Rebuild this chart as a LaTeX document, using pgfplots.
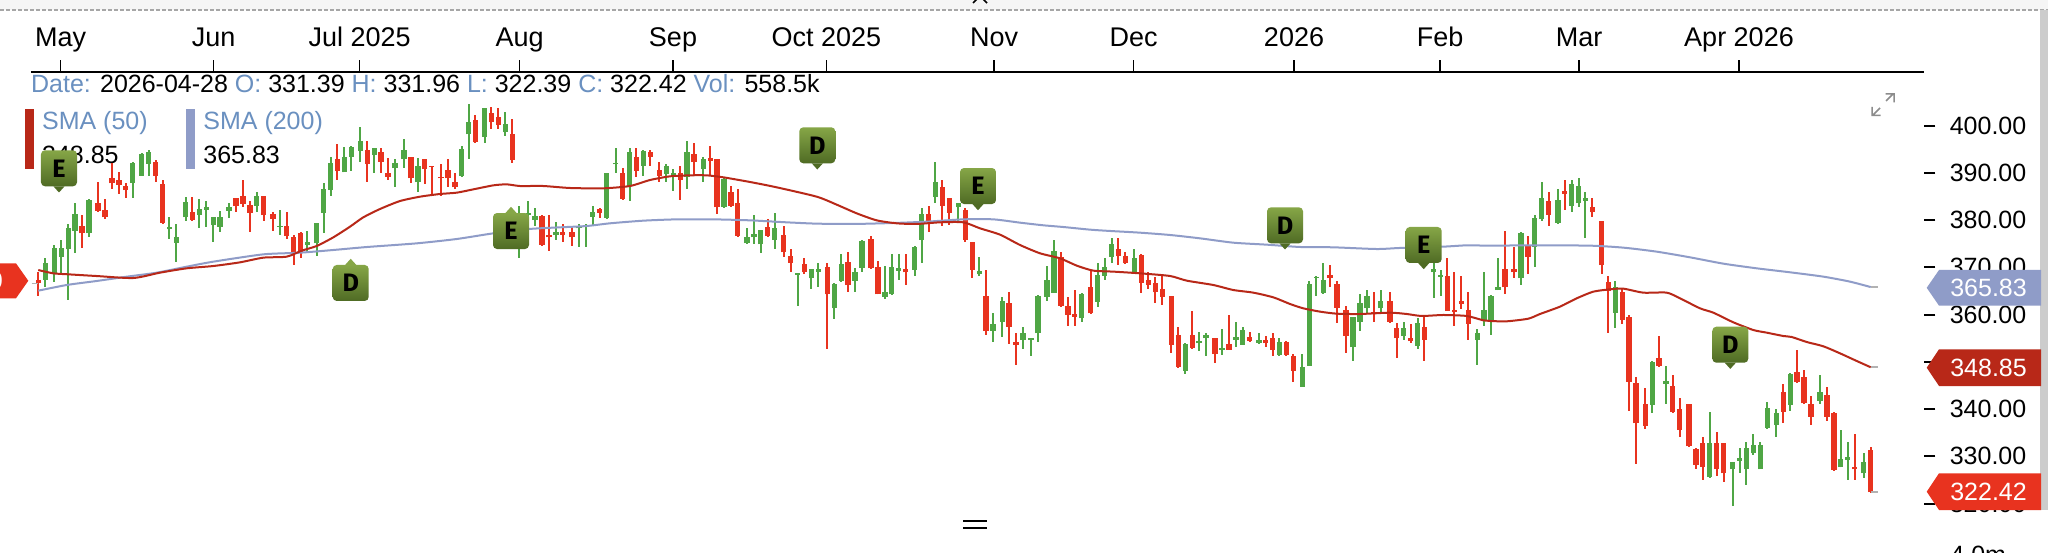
\documentclass[border=0pt]{standalone}
\usepackage{fontspec}
\setmainfont{Liberation Sans}
\newfontfamily\badgefont{Fira Sans}
\usepackage{pgfplots}
\usepackage{pgfplotstable}
\pgfplotsset{compat=1.18}
\definecolor{cg}{HTML}{4FA645}
\definecolor{cr}{HTML}{E8331F}
\definecolor{sma50}{HTML}{B82818}
\definecolor{sma200}{HTML}{8F9CC8}
\definecolor{lblue}{HTML}{6A90C0}
\newcommand{\fs}{\fontsize{12.5}{15}\selectfont}
\pgfplotstableread{
x o h l c
45.3 367.33 371.91 365.92 371.00
54.3 368.74 374.74 366.97 374.03
61.3 372.27 375.80 368.74 374.03
68.3 373.82 379.18 363.09 378.27
75 377.70 383.56 372.97 381.30
89 377.21 384.48 376.36 384.26
132.7 387.93 392.24 384.62 392.03
141.7 389.42 394.29 389.42 394.00
148.7 391.89 394.85 389.42 394.50
169.3 378.05 380.60 375.94 378.48
176.3 375.23 379.18 371.07 376.36
185.7 380.60 384.97 379.89 383.77
199.3 381.09 384.48 378.41 382.29
206.3 382.15 384.05 378.48 382.71
213.3 378.97 380.74 375.44 380.74
220 378.62 382.01 377.42 380.74
229 382.01 383.56 380.38 382.71
256.7 382.99 386.03 381.79 385.11
280 378.62 382.15 376.85 378.76
307.3 374.74 377.70 372.97 375.44
316.7 375.09 379.32 372.48 379.32
323.7 381.58 387.93 377.35 386.59
330.7 386.38 393.30 385.18 392.03
344.3 390.12 395.56 390.12 393.44
351.3 393.44 395.77 390.48 395.56
360.3 394.71 399.65 392.38 396.83
374.3 393.79 395.35 390.05 395.35
395 390.97 392.88 387.09 392.03
404 392.88 397.18 390.97 394.85
418 388.01 393.09 386.03 391.53
461.7 389.42 395.77 389.35 394.99
468.7 398.17 404.52 392.95 400.71
484.7 397.67 403.67 396.26 403.67
505.3 398.59 402.97 397.82 400.29
519 377.21 383.00 372.06 381.09
528.3 381.09 384.06 377.92 381.44
535 380.03 382.64 378.76 380.88
556 376.86 379.68 375.80 377.42
579 378.27 379.19 374.39 378.76
586 378.48 379.19 374.39 378.76
592.7 380.74 383.00 378.97 381.80
606.7 380.53 390.05 380.39 390.05
615.7 391.82 395.35 390.05 392.17
629.7 387.23 395.35 384.13 394.50
643.3 391.47 394.85 389.42 394.64
666.3 389.77 391.89 388.15 391.54
673.3 389.21 390.83 386.17 390.05
687 389.21 396.76 386.60 394.50
703.3 390.83 393.44 388.15 392.95
724 382.86 389.21 382.71 388.64
747 375.09 378.27 374.95 376.50
754 376.36 381.09 374.95 377.00
760.7 374.88 377.92 372.98 377.92
774.7 375.80 381.59 373.89 378.41
797.7 368.39 368.88 361.89 368.74
811.3 367.68 369.59 365.35 369.59
818.3 369.09 370.86 365.92 369.59
834.3 361.33 366.62 359.07 366.48
841.3 367.12 372.83 366.84 370.65
855 367.19 369.80 364.86 369.09
862 369.94 375.80 369.09 375.59
885 363.80 370.36 363.31 364.86
891.7 364.29 372.83 364.15 370.01
898.7 369.30 372.83 367.33 369.80
914.7 369.45 374.60 368.25 374.39
921.7 375.80 382.64 371.00 381.23
935.3 384.97 392.38 383.70 388.15
958.3 382.71 383.70 379.54 383.70
979.3 368.53 372.27 368.25 369.24
993 356.53 360.41 354.13 358.01
1002.3 358.51 363.80 355.19 362.95
1023 354.63 357.45 352.72 356.18
1031 354.63 354.98 351.31 354.98
1038 356.04 364.16 354.27 364.02
1047 363.80 370.37 362.96 367.33
1054 364.65 375.80 364.65 373.47
1081.7 359.22 364.65 358.51 364.37
1097.7 362.74 370.86 361.55 368.39
1104.7 368.18 371.92 367.33 370.01
1111.7 372.27 376.15 371.00 374.95
1134.3 368.88 373.89 368.74 372.06
1185.3 348.13 353.92 347.43 353.78
1199 353.92 356.39 352.30 354.41
1206 354.98 356.04 351.31 355.69
1222 352.51 356.96 351.45 352.86
1236 354.63 358.37 353.22 355.19
1242.7 353.57 357.45 353.57 356.74
1259 354.06 356.04 353.92 354.63
1279.3 351.45 354.98 351.31 354.27
1302.3 344.75 351.59 344.75 348.84
1309.3 349.12 367.19 349.12 366.41
1316.3 367.70 368.18 363.94 368.04
1323.3 364.51 371.00 364.37 367.33
1353 353.07 359.56 350.25 359.56
1360 358.51 364.37 356.60 362.39
1367 361.33 365.21 360.27 364.02
1380.7 361.33 365.21 360.27 362.96
1403.7 355.47 358.37 354.63 357.10
1417.7 353.43 359.36 352.72 358.16
1433.7 368.96 370.86 363.45 369.59
1440.7 368.04 369.45 363.94 368.39
1477.3 354.63 356.96 349.33 356.04
1484 358.86 368.96 357.66 360.98
1491 358.51 364.16 355.69 364.02
1498 365.21 371.92 365.21 365.92
1521 367.68 377.42 366.27 377.35
1534.7 374.39 381.09 370.01 380.39
1541.7 380.17 388.00 379.82 384.62
1558 379.47 386.53 379.33 384.27
1571.7 383.07 388.50 381.66 387.66
1578.7 383.56 388.86 382.72 387.23
1585.3 384.13 386.03 376.29 384.62
1615.3 360.41 367.19 357.10 365.78
1652.3 340.87 350.25 339.10 349.90
1666 345.31 349.19 341.00 345.95
1709.7 325.69 339.45 325.55 332.75
1732.7 327.25 328.87 319.55 328.87
1739.7 329.08 331.69 326.54 329.57
1746.3 327.25 333.10 323.93 331.83
1753.3 330.63 334.65 330.28 332.40
1760.3 327.25 333.10 327.25 332.40
1767.3 336.07 341.43 335.93 340.16
1776.3 336.63 339.95 334.16 339.10
1790.3 340.87 347.71 339.60 347.43
1820 341.78 347.22 341.00 343.55
1840.7 327.67 335.57 327.67 329.36
1847.7 329.22 333.10 324.99 329.93
1863.7 326.40 330.63 325.48 328.87
}\greenT
\pgfplotstableread{
x o h l c
38.3 367.33 369.09 363.94 366.62
82 378.83 381.09 374.03 377.21
98 383.70 388.01 381.94 382.01
105 382.15 384.48 380.24 380.60
112 388.99 392.03 386.59 387.79
119 388.50 390.26 385.54 387.44
125.7 387.23 387.93 384.62 386.38
155.7 392.38 392.73 388.15 389.42
162.7 387.65 388.50 379.32 379.47
192.3 381.65 384.97 379.89 380.03
236 384.62 384.62 381.79 382.99
243 385.11 388.50 382.85 383.42
250 383.21 384.05 377.42 381.58
263.7 385.11 385.11 379.82 381.09
273 381.23 381.79 377.77 380.24
286.7 378.76 381.65 375.94 376.71
293.7 376.50 376.85 370.50 373.33
300.7 377.21 377.42 371.91 372.97
337.3 392.87 396.12 388.50 390.40
367.3 394.85 396.76 388.01 391.89
381 394.36 395.20 389.91 392.38
388 390.05 393.23 388.50 389.21
411 393.44 393.44 387.79 388.85
424.7 392.95 392.95 387.65 390.83
431.7 391.53 391.53 385.46 391.32
441 389.21 391.89 385.18 388.85
448 390.62 392.87 387.09 388.85
455 388.15 389.91 386.59 386.95
475.3 401.20 402.26 396.26 396.47
491.3 402.61 403.88 399.30 400.71
498.3 401.77 403.67 399.30 400.14
512.3 398.24 401.41 392.03 392.73
542 380.88 381.09 374.53 374.74
549 376.86 381.09 373.54 376.36
562.7 377.42 379.19 375.45 376.86
572 377.42 378.76 374.53 376.36
599.7 382.36 382.64 380.39 381.59
622.7 390.05 390.97 384.41 384.48
636.3 393.44 395.35 389.07 390.48
650.3 394.50 394.85 391.47 393.44
659.3 390.62 392.38 388.15 389.35
680.3 389.91 391.47 384.27 388.50
694 393.94 396.27 389.56 392.31
710.3 393.09 395.77 389.56 392.60
717 392.95 392.95 381.30 382.71
731 386.03 387.23 382.71 383.00
737.7 383.70 386.53 376.50 376.65
767.7 378.48 380.17 376.36 376.72
783.7 376.86 378.76 372.13 373.19
790.7 372.48 373.89 369.09 371.00
804.3 370.65 371.92 368.60 368.95
827.3 370.15 370.86 352.72 364.29
848 371.07 373.33 364.86 366.27
871 375.94 376.72 369.66 369.80
878 370.15 371.42 364.29 364.29
905.7 369.59 372.83 366.27 368.95
928.7 381.23 383.07 377.42 379.89
942.3 387.09 388.50 378.76 383.00
949.3 384.62 384.62 378.97 381.59
965.3 382.15 382.50 375.45 375.80
972.3 375.45 375.45 367.82 369.45
986 363.94 369.45 355.68 356.53
1009 362.39 364.72 353.71 357.45
1016 354.13 356.04 349.33 353.57
1061 372.27 373.33 361.83 361.90
1068 361.90 363.80 357.66 359.92
1074.7 360.06 365.21 357.66 359.56
1090.7 365.92 369.45 360.06 360.27
1118.3 373.89 376.29 370.50 372.41
1125.3 372.41 373.33 370.72 370.86
1141.3 372.63 372.77 364.50 366.77
1148.3 367.33 368.96 365.43 366.27
1155.3 366.77 368.04 362.53 364.72
1162.3 365.35 368.25 362.04 363.80
1171.3 364.02 364.02 351.80 353.57
1178.3 355.69 357.45 348.84 348.98
1192.3 355.69 360.84 352.72 353.00
1215 355.12 355.12 349.83 351.66
1229 353.71 359.92 352.51 352.51
1249.7 355.19 356.39 354.27 354.49
1265.7 354.63 355.47 353.22 353.92
1272.7 355.12 356.04 351.31 352.51
1286.3 354.13 354.49 351.31 351.45
1293.3 351.31 351.59 345.81 348.13
1330 368.39 370.50 365.92 367.70
1337 366.41 367.19 358.15 361.47
1346 360.98 361.90 351.80 355.55
1373.7 360.49 364.72 358.51 360.27
1390 362.96 364.72 358.37 358.51
1396.7 357.10 358.30 350.75 354.98
1410.7 354.98 358.02 353.92 354.41
1424.3 357.45 359.78 350.25 354.63
1447.3 368.25 371.92 360.84 360.84
1454.3 360.98 368.96 357.66 360.49
1461.3 362.96 368.18 361.12 362.25
1468.3 360.98 364.72 354.63 358.02
1505 369.59 377.71 364.37 365.78
1514 369.59 374.39 367.83 368.96
1528 374.60 376.72 368.60 372.27
1548.7 384.13 386.03 378.76 381.09
1564.7 386.25 388.50 382.15 385.54
1592.3 382.72 384.62 380.74 381.66
1601.7 379.82 379.82 368.60 370.50
1608.3 366.83 368.18 356.04 365.07
1622.3 364.86 365.57 358.02 358.86
1629 359.56 359.92 339.60 345.81
1636 345.45 346.72 328.37 336.98
1645.3 341.08 344.39 335.71 336.49
1659 350.75 355.47 348.84 349.12
1672.7 344.96 347.22 339.31 339.45
1679.7 340.02 342.42 334.16 335.57
1689 341.08 341.08 332.04 332.18
1696 331.48 331.69 327.25 328.16
1702.7 332.75 334.16 324.99 327.81
1716.7 332.75 335.08 325.90 327.25
1723.7 332.75 332.75 324.49 326.40
1783.3 343.55 345.31 337.13 339.45
1797 347.92 352.51 345.45 345.66
1804 346.86 348.28 341.08 341.22
1811 341.08 342.84 336.63 338.40
1827 342.98 344.75 337.55 338.40
1834 339.10 339.45 326.96 327.10
1854.7 327.81 334.65 324.99 327.25
1870.7 331.39 331.96 322.39 322.42
}\redT
\pgfplotstableread{
x y
38.3 369.44
53.3 368.74
68.3 368.53
96.7 368.17
133.3 367.75
160 368.88
186.7 369.80
213.3 370.29
240 371.07
263.3 372.06
286.7 372.27
301.7 373.54
316.7 374.53
333.3 376.36
350 378.62
363.3 380.60
380 382.36
400 384.05
420 384.97
440 385.54
456.7 385.82
473.3 386.52
493.3 387.37
506.7 387.58
520 387.23
543.3 387.23
570 386.81
603.3 386.74
630 387.23
650 388.50
670 389.28
690 389.49
706.7 389.49
723.3 389.07
750 388.08
776.7 386.95
816.7 384.97
836.7 383.28
856.7 381.44
876.7 379.96
896.7 379.33
916.7 379.19
940 379.54
963.3 379.54
980 378.27
1000 376.93
1020 374.74
1040 372.98
1060 371.92
1076.7 370.37
1093.3 369.31
1113.3 369.10
1140 368.74
1170 368.18
1186.7 367.19
1213.3 366.27
1233.3 365.21
1253.3 364.65
1273.3 363.66
1290 362.25
1303.3 361.33
1320 360.63
1336.7 360.20
1360 360.13
1390 360.41
1406.7 360.13
1421.7 359.71
1443.3 359.92
1466.7 359.71
1483.3 358.79
1490 358.65
1506.7 358.58
1528.3 359.14
1540 360.13
1560 361.69
1576.7 363.45
1593.3 364.86
1610 365.35
1623.3 365.50
1643.3 364.65
1666.7 364.65
1680 363.45
1700 361.33
1713.3 360.41
1733.3 358.37
1753.3 356.74
1766.7 356.18
1783.3 355.47
1791.7 355.26
1806.7 354.20
1823.3 353.29
1840 351.80
1856.7 350.18
1870.7 348.85
}\smaA
\pgfplotstableread{
x y
38.3 365.07
66.7 366.27
96.7 367.12
126.7 368.03
156.7 368.88
186.7 370.15
213.3 371.21
263.3 372.76
300 373.11
333.3 373.68
366.7 374.31
416.7 375.09
456.7 376.01
493.3 377.21
529.3 378.13
560 378.48
586.7 378.76
610 379.33
643.3 379.89
676.7 380.17
713.3 380.17
750 379.96
786.7 379.54
816.7 379.26
853.3 379.19
893.3 379.40
926.7 379.68
963.3 380.17
993.3 380.17
1020 379.47
1043.3 378.91
1063.3 378.55
1090 377.99
1110 377.71
1140 377.35
1170 376.86
1200 376.15
1233.3 375.23
1266.7 374.81
1300 374.32
1333.3 374.25
1376.7 373.89
1400 374.11
1443.3 374.39
1466.7 374.67
1490 374.60
1533.3 374.67
1590 374.60
1623.3 374.18
1656.7 373.33
1690 372.13
1723.3 370.79
1756.7 369.80
1790 368.96
1823.3 368.04
1850 366.98
1870.7 365.83
}\smaB
\newcommand{\badgeD}[2]{\badge{#1}{#2}{86A647}{4F6B24}{D}}
\newcommand{\badgeE}[2]{\badge{#1}{#2}{78C4D2}{3F7CA0}{E}}
\newcommand{\badge}[5]{%
  \definecolor{bt}{HTML}{#3}\definecolor{bb}{HTML}{#4}%
  \node[minimum width=18pt,minimum height=18pt,inner sep=0pt,rounded corners=2pt,top color=bt,bottom color=bb,text=black] at (axis cs:#1,#2) {\badgefont\fontsize{12.6}{15}\selectfont\bfseries #5};}
\begin{document}
\begin{tikzpicture}
\useasboundingbox (0,0) rectangle (1024pt,276pt);
\clip (0,0) rectangle (1024pt,276pt);
\begin{scope}[x=0.5pt,y=-0.5pt,yshift=276pt]
\fill[white] (0,0) rectangle (2048,552);
\fill[black!4] (0,0) rectangle (2048,10);
\draw[black!35,line width=0.6pt,dash pattern=on 2pt off 1pt] (0,10) -- (2048,10);
\fill[black!20] (2040,10) rectangle (2048,510);
\draw[black,line width=0.8pt] (973,3) -- (977,-1) (983,-1) -- (987,3);
% header line
\node[anchor=base west,inner sep=0pt,font=\fs] at (30.7,92.3) {\textcolor{lblue}{Date:} 2026-04-28 \textcolor{lblue}{O:} 331.39 \textcolor{lblue}{H:} 331.96 \textcolor{lblue}{L:} 322.39 \textcolor{lblue}{C:} 322.42 \textcolor{lblue}{Vol:} 558.5k};
% legend
\fill[sma50] (25.3,109.3) rectangle (34,169);
\fill[sma200] (186,109.3) rectangle (195,169);
\node[anchor=base west,inner sep=0pt,font=\fs,text=lblue] at (41.7,130) {SMA (50)};
\node[anchor=base west,inner sep=0pt,font=\fs,text=lblue] at (203,130) {SMA (200)};
\node[anchor=base west,inner sep=0pt,font=\fs] at (41.7,164) {348.85};
\node[anchor=base west,inner sep=0pt,font=\fs] at (203,164) {365.83};
\end{scope}
\begin{axis}[
  at={(15.5pt,21pt)},anchor=south west,scale only axis,
  width=946.4pt,height=219.15pt,
  xmin=31,xmax=1923.8,ymin=318.63,ymax=411.43,
  axis x line=top,axis y line=right,
  axis line style={-},
  y axis line style={draw=none},
  x axis line style={line width=0.9pt},
  tick align=outside,
  major tick length=5.8pt,
  xtick={60.7,213.7,359.7,519.7,673,826.3,994,1133.7,1294,1440,1579,1739},
  xticklabels={May,Jun,Jul 2025,Aug,Sep,Oct 2025,Nov,Dec,2026,Feb,Mar,Apr 2026},
  ytick={320,330,340,350,360,370,380,390,400},
  x tick style={line width=0.6pt,black},
  y tick style={line width=1pt,black},
  xticklabel style={font=\fontsize{13.5}{16}\selectfont,anchor=base,yshift=6.7pt},
  yticklabel style={font=\fs,anchor=west,inner sep=0pt,xshift=7pt,
    /pgf/number format/.cd,fixed,fixed zerofill,precision=2,assume math mode=true},
  clip=false,
]
\addplot[forget plot,draw=none,mark=none,error bars/.cd,y dir=both,y explicit,error mark=none,error bar style={draw=cg,line width=1pt,line cap=butt}] table[x=x,y=o,y error plus expr=\thisrow{h}-\thisrow{o},y error minus expr=\thisrow{o}-\thisrow{l}] {\greenT};
\addplot[forget plot,draw=none,mark=none,error bars/.cd,y dir=plus,y explicit,error mark=none,error bar style={draw=cg,line width=2.7pt,line cap=butt}] table[x=x,y=o,y error plus expr=\thisrow{c}-\thisrow{o}] {\greenT};
\addplot[forget plot,draw=none,mark=none,error bars/.cd,y dir=both,y explicit,error mark=none,error bar style={draw=cr,line width=1pt,line cap=butt}] table[x=x,y=c,y error plus expr=\thisrow{h}-\thisrow{c},y error minus expr=\thisrow{c}-\thisrow{l}] {\redT};
\addplot[forget plot,draw=none,mark=none,error bars/.cd,y dir=plus,y explicit,error mark=none,error bar style={draw=cr,line width=2.7pt,line cap=butt}] table[x=x,y=c,y error plus expr=\thisrow{o}-\thisrow{c}] {\redT};
\addplot[forget plot,sma200,line width=1pt,smooth,tension=0.4,mark=none] table[x=x,y=y] {\smaB};
\addplot[forget plot,sma50,line width=1pt,smooth,tension=0.4,mark=none] table[x=x,y=y] {\smaA};
\addplot[forget plot,black!30,line width=0.9pt,mark=none] coordinates {(1870.7,365.83) (1878,365.83)};
\addplot[forget plot,black!30,line width=0.9pt,mark=none] coordinates {(1870.7,348.85) (1878,348.85)};
\addplot[forget plot,black!30,line width=0.9pt,mark=none] coordinates {(1870.7,322.42) (1878,322.42)};
\addplot[forget plot,black!30,line width=0.9pt,mark=none] coordinates {(31.7,366.6) (38,366.6)};
\badgeE{59}{390.98}
\fill[bb] (axis cs:59,390.98) ++(-2.8pt,-9pt) -- ++(2.8pt,-3.1pt) -- ++(2.8pt,3.1pt) -- cycle;
\badgeD{350.7}{366.7}
\fill[bt] (axis cs:350.7,366.7) ++(-2.8pt,9pt) -- ++(2.8pt,3.1pt) -- ++(2.8pt,-3.1pt) -- cycle;
\badgeE{511}{377.7}
\fill[bt] (axis cs:511,377.7) ++(-2.8pt,9pt) -- ++(2.8pt,3.1pt) -- ++(2.8pt,-3.1pt) -- cycle;
\badgeD{817.3}{395.85}
\fill[bb] (axis cs:817.3,395.85) ++(-2.8pt,-9pt) -- ++(2.8pt,-3.1pt) -- ++(2.8pt,3.1pt) -- cycle;
\badgeE{978}{387.23}
\fill[bb] (axis cs:978,387.23) ++(-2.8pt,-9pt) -- ++(2.8pt,-3.1pt) -- ++(2.8pt,3.1pt) -- cycle;
\badgeD{1285}{378.91}
\fill[bb] (axis cs:1285,378.91) ++(-2.8pt,-9pt) -- ++(2.8pt,-3.1pt) -- ++(2.8pt,3.1pt) -- cycle;
\badgeE{1423.7}{374.74}
\fill[bb] (axis cs:1423.7,374.74) ++(-2.8pt,-9pt) -- ++(2.8pt,-3.1pt) -- ++(2.8pt,3.1pt) -- cycle;
\badgeD{1730.3}{353.63}
\fill[bb] (axis cs:1730.3,353.63) ++(-2.8pt,-9pt) -- ++(2.8pt,-3.1pt) -- ++(2.8pt,3.1pt) -- cycle;
\end{axis}
\begin{scope}[x=0.5pt,y=-0.5pt,yshift=276pt]
% expand icon
\draw[black!45,line width=0.75pt] (1880,108) -- (1873,115) (1872,107) -- (1872,115.5) -- (1880.5,115.5);
\draw[black!45,line width=0.75pt] (1886,101) -- (1893,94) (1885.5,94) -- (1894,94) -- (1894,102.5);
% handle
\draw[black,line width=0.9pt] (963,521) -- (987,521) (963,528) -- (987,528);
\node[anchor=base west,inner sep=0pt,font=\fs] at (1950,563) {4.0m};
% last value labels
\fill[sma200] (1926.7,287.8) -- (1939,270) -- (2041,270) -- (2041,305.7) -- (1939,305.7) -- cycle;
\node[anchor=base,inner sep=0pt,font=\fs,text=white] at (1988.5,296) {365.83};
\fill[sma50] (1926.7,367.7) -- (1939,349.3) -- (2041,349.3) -- (2041,386) -- (1939,386) -- cycle;
\node[anchor=base,inner sep=0pt,font=\fs,text=white] at (1988.5,376) {348.85};
\fill[cr] (1926.7,491.7) -- (1939,473.3) -- (2041,473.3) -- (2041,510) -- (1939,510) -- cycle;
\node[anchor=base,inner sep=0pt,font=\fs,text=white] at (1988.5,500) {322.42};
\fill[cr] (-10,263.3) -- (16,263.3) -- (28.3,280.8) -- (16,298.3) -- (-10,298.3) -- cycle;
\node[anchor=base east,inner sep=0pt,font=\fs,text=white] at (3.5,289.5) {366.69};
\end{scope}
\end{tikzpicture}
\end{document}
